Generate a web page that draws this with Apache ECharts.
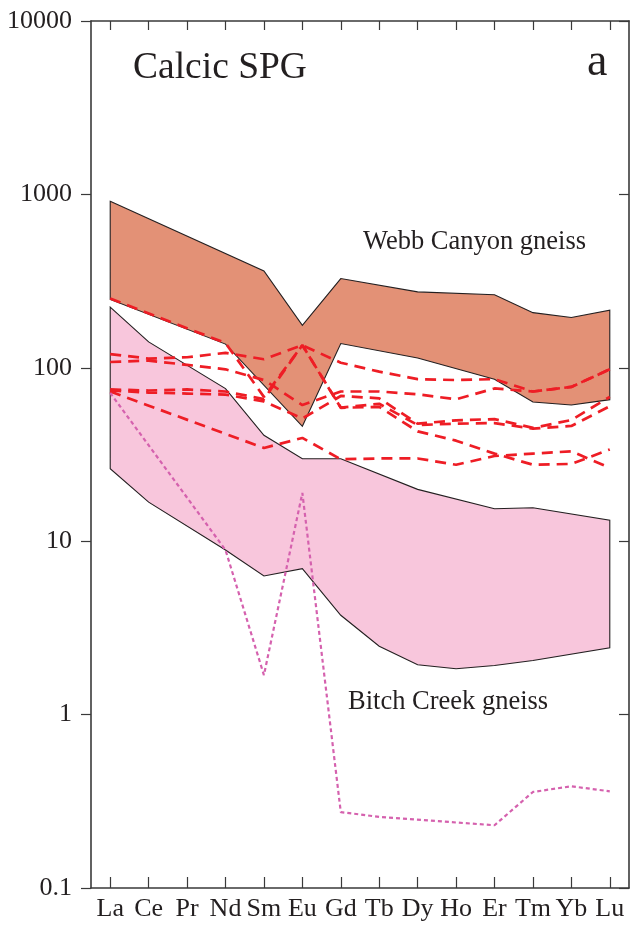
<!DOCTYPE html>
<html>
<head>
<meta charset="utf-8">
<script src="https://cdn.jsdelivr.net/npm/echarts@6/dist/echarts.min.js"></script>
<style>
  html, body { margin: 0; padding: 0; background: #ffffff; }
  #chart { width: 631px; height: 926px; }
</style>
</head>
<body>
<div id="chart"></div>
<script>
// Chondrite-normalised REE patterns, calcic SPG samples
const elements = ['La', 'Ce', 'Pr', 'Nd', 'Sm', 'Eu', 'Gd', 'Tb', 'Dy', 'Ho', 'Er', 'Tm', 'Yb', 'Lu'];
const yTicks = [0.1, 1, 10, 100, 1000, 10000];

// Webb Canyon gneiss field (upper / lower envelope, null = no vertex)
const webbUpper = [912, null, null, null, 362, 176, 327, null, 274, null, 264, 208, 195, 215];
const webbLower = [248, null, null, 137, null, 46, 138, null, 114, null, 86, 63.5, 61, 65.5];

// Bitch Creek gneiss field
const bitchUpper = [224, 141, null, 75.9, 40.8, 29.9, 29.9, null, 19.9, null, 15.4, 15.6, null, 13.2];
const bitchLower = [26.2, 16.8, null, 8.9, 6.3, 6.95, 3.74, 2.48, 1.94, 1.84, 1.92, 2.05, null, 2.43];

// Calcic SPG samples (dashed red)
const sampleA = [251, null, null, 139, 68, 135, 59, 62, 46.8, 47.6, 48, 44.6, 46.2, 60];
const sampleB = [120, 113, 115, 122, 112, 135, 107, 95, 86, 85, 86, 73, 77.6, 98];
const sampleC = [108, 110, 104, 98, 85, 61, 73, 73, 70.4, 65.8, 76, 73, 77.6, 98];
const sampleD = [75, 74, 75, 73, 66, 135, 58.8, 59.5, 43, 38, 32, 27.6, 27.9, 33.8];
const sampleE = [74, 72, 71, 70, 64, 51, 68.8, 66.7, 47.6, 49.8, 50.6, 45, 50, 68];
const sampleF = [73, null, null, null, 34.5, 39.4, 29.7, 30, 30, 27.6, 31, 32, 33, 26.5];

// Single low-HREE sample (dotted magenta)
const sampleG = [71.6, null, null, 8.9, 1.69, 19, 0.274, 0.257, null, null, 0.23, 0.358, 0.386, 0.361];

const ink = '#231F20';
const serif = 'Liberation Serif, Times New Roman, serif';

function fieldSeries(upper, lower, fill) {
  return {
    type: 'custom',
    coordinateSystem: 'cartesian2d',
    xAxisIndex: 0,
    yAxisIndex: 0,
    z: 1,
    silent: true,
    data: [[0, 1]],
    renderItem: function (params, api) {
      const pts = [];
      upper.forEach(function (v, i) { if (v != null) pts.push(api.coord([i, v])); });
      for (let i = lower.length - 1; i >= 0; i--) {
        if (lower[i] != null) pts.push(api.coord([i, lower[i]]));
      }
      return {
        type: 'polygon',
        shape: { points: pts },
        style: { fill: fill, stroke: ink, lineWidth: 1.1 }
      };
    }
  };
}

function dashed(values) {
  return {
    type: 'line',
    data: values,
    connectNulls: true,
    showSymbol: false,
    symbol: 'none',
    z: 3,
    silent: true,
    lineStyle: { color: '#EE1D25', width: 2.7, type: [11, 7] }
  };
}

const chart = echarts.init(document.getElementById('chart'), null, { renderer: 'canvas' });

chart.setOption({
  animation: false,
  backgroundColor: '#ffffff',
  grid: { left: 91, right: 2, top: 21, bottom: 38 },
  xAxis: [
    {
      type: 'category',
      data: elements,
      position: 'bottom',
      boundaryGap: true,
      axisLine: { show: true, lineStyle: { color: '#3a3a3a', width: 1.6 } },
      axisTick: { show: true, inside: true, alignWithLabel: true, interval: 0, length: 11, lineStyle: { color: '#3a3a3a', width: 1.2 } },
      axisLabel: { show: true, interval: 0, fontFamily: serif, fontSize: 26, color: ink, margin: 8 },
      splitLine: { show: false }
    },
    {
      type: 'category',
      data: elements,
      position: 'top',
      boundaryGap: true,
      axisLine: { show: true, lineStyle: { color: '#3a3a3a', width: 1.6 } },
      axisTick: { show: true, inside: true, alignWithLabel: true, interval: 0, length: 9, lineStyle: { color: '#3a3a3a', width: 1.2 } },
      axisLabel: { show: false },
      splitLine: { show: false }
    }
  ],
  yAxis: [
    {
      type: 'log',
      logBase: 10,
      min: yTicks[0],
      max: yTicks[yTicks.length - 1],
      position: 'left',
      axisLine: { show: true, lineStyle: { color: '#3a3a3a', width: 1.6 } },
      axisTick: { show: true, inside: false, length: 10, lineStyle: { color: '#3a3a3a', width: 1.2 } },
      axisLabel: {
        show: true, fontFamily: serif, fontSize: 26, color: ink, margin: 19,
        formatter: function (v) { return String(Math.round(v * 10) / 10); }
      },
      minorTick: { show: false },
      splitLine: { show: false }
    },
    {
      type: 'log',
      logBase: 10,
      min: yTicks[0],
      max: yTicks[yTicks.length - 1],
      position: 'right',
      axisLine: { show: true, lineStyle: { color: '#3a3a3a', width: 1.6 } },
      axisTick: { show: true, inside: true, length: 10, lineStyle: { color: '#3a3a3a', width: 1.2 } },
      axisLabel: { show: false },
      splitLine: { show: false }
    }
  ],
  series: [
    fieldSeries(webbUpper, webbLower, '#E39176'),
    fieldSeries(bitchUpper, bitchLower, '#F8C6DC'),
    dashed(sampleA),
    dashed(sampleB),
    dashed(sampleC),
    dashed(sampleD),
    dashed(sampleE),
    dashed(sampleF),
    {
      type: 'line',
      data: sampleG,
      connectNulls: true,
      showSymbol: false,
      symbol: 'none',
      z: 3,
      silent: true,
      lineStyle: { color: '#D561AE', width: 2.2, type: [4, 3] }
    }
  ],
  graphic: [
    { type: 'text', left: 133, top: 49, style: { text: 'Calcic SPG', font: '37.5px ' + serif, fill: ink } },
    { type: 'text', left: 587, top: 40, style: { text: 'a', font: '46px ' + serif, fill: ink } },
    { type: 'text', left: 363, top: 229, style: { text: 'Webb Canyon gneiss', font: '26.5px ' + serif, fill: ink } },
    { type: 'text', left: 348, top: 689, style: { text: 'Bitch Creek gneiss', font: '26.5px ' + serif, fill: ink } }
  ]
});
</script>
</body>
</html>
